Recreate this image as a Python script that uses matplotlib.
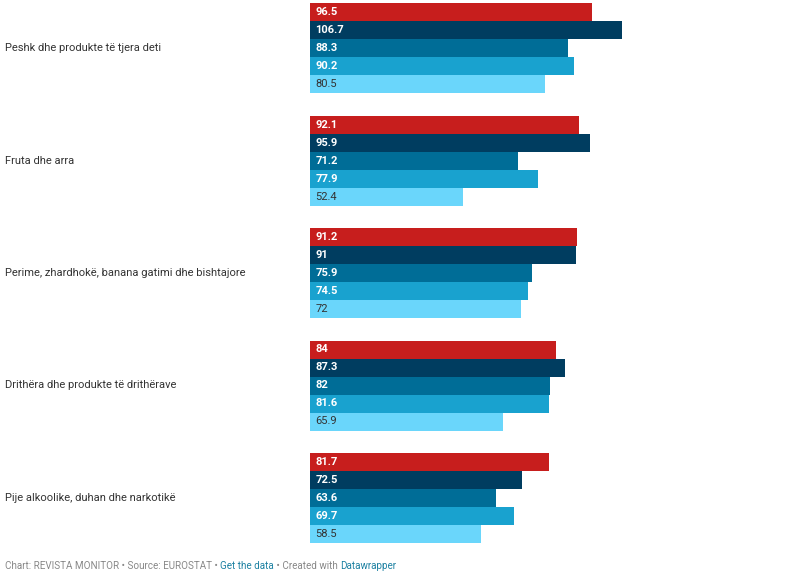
import matplotlib
matplotlib.use("Agg")
import matplotlib.pyplot as plt

plt.rcParams['font.family'] = ['Roboto', 'DejaVu Sans']

categories = [
    "Peshk dhe produkte të tjera deti",
    "Fruta dhe arra",
    "Perime, zhardhokë, banana gatimi dhe bishtajore",
    "Drithëra dhe produkte të drithërave",
    "Pije alkoolike, duhan dhe narkotikë",
]
series_1 = [96.5, 92.1, 91.2, 84, 81.7]
series_2 = [106.7, 95.9, 91, 87.3, 72.5]
series_3 = [88.3, 71.2, 75.9, 82, 63.6]
series_4 = [90.2, 77.9, 74.5, 81.6, 69.7]
series_5 = [80.5, 52.4, 72, 65.9, 58.5]
series = [series_1, series_2, series_3, series_4, series_5]

colors = ['#c71e1d', '#003d60', '#006d97', '#19a2cf', '#6ad6fb']
label_colors = ['white', 'white', 'white', 'white', '#333333']

W, H = 804, 573
fig = plt.figure(figsize=(W / 100, H / 100), dpi=100)
ax = fig.add_axes([310 / W, 30 / H, 480 / W, 540 / H])

px_per_unit = 2.924
ax.set_xlim(0, 480 / px_per_unit)
ax.set_ylim(30, 0)
ax.axis('off')

group_step = 6.25
for j, vals in enumerate(series):
    ys = [i * group_step + j + 0.5 for i in range(len(vals))]
    ax.barh(ys, vals, height=1.0, color=colors[j], linewidth=0)
    for y, v in zip(ys, vals):
        txt = f"{v:g}"
        ax.annotate(txt, (0, y), xytext=(4, 0), textcoords='offset points',
                    va='center', ha='left', fontsize=8,
                    color=label_colors[j],
                    fontweight='bold' if j < 4 else 'normal')

for i, cat in enumerate(categories):
    yc = i * group_step + 2.5
    ydisp = ax.transData.transform((0, yc))[1]
    fig.text(5 / W, ydisp / H, cat, fontsize=8, color='#333333',
             va='center', ha='left')

# footer
parts = [
    ("Chart: REVISTA MONITOR • Source: EUROSTAT • ", '#888888'),
    ("Get the data", '#1d81a2'),
    (" • Created with ", '#888888'),
    ("Datawrapper", '#1d81a2'),
]
renderer = fig.canvas.get_renderer()
x = 5
for s, c in parts:
    t = fig.text(x / W, (H - 566) / H, s, fontsize=7.1, color=c,
                 va='center', ha='left')
    x += t.get_window_extent(renderer=renderer).width

fig.savefig("out.png", dpi=100)
